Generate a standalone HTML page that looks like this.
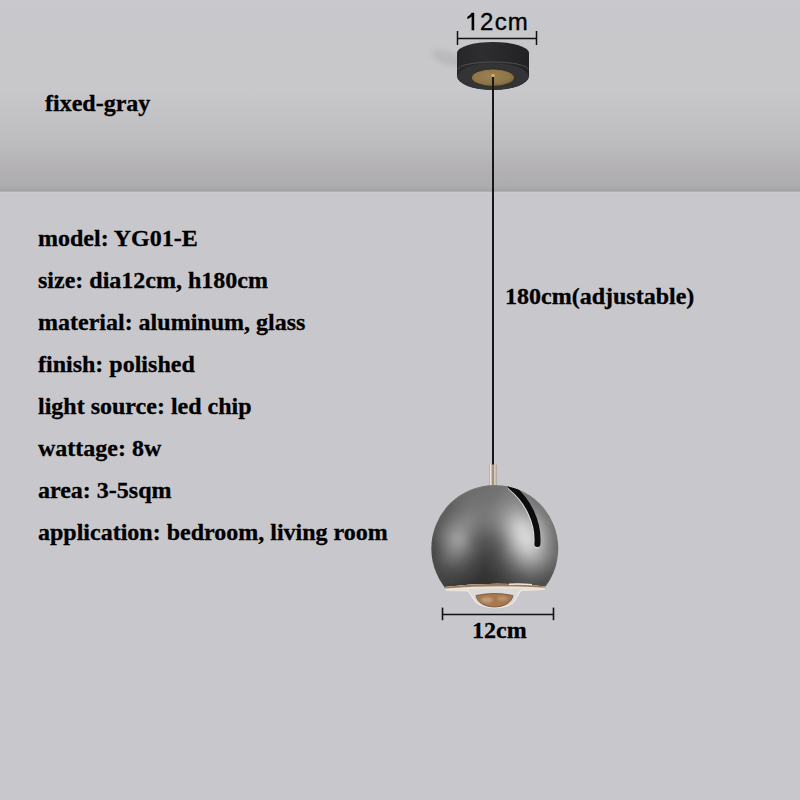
<!DOCTYPE html>
<html><head><meta charset="utf-8">
<style>
html,body{margin:0;padding:0;}
body{width:800px;height:800px;position:relative;overflow:hidden;background:#c8c7cb;}
#ceil{position:absolute;left:0;top:0;width:800px;height:192px;background:linear-gradient(to bottom,#c9c8cc 0px,#c8c7cb 20px,#c8c7ca 90px,#c2c1c4 120px,#bcbbbe 145px,#b4b2b5 165px,#afaeb1 178px,#adacae 186px,#a9a8ab 188.5px,#a3a2a5 190.5px,#a6a5a8 191px,#bab9bc 192px);}
#ceil2{position:absolute;left:0;top:192px;width:800px;height:1px;background:#cbcacd;}
.t{position:absolute;font-family:"Liberation Serif",serif;font-weight:bold;color:#000;white-space:nowrap;-webkit-text-stroke:0.3px #000;}
.spec{font-size:24px;left:38px;}
.sans{position:absolute;font-family:"Liberation Sans",sans-serif;color:#000;white-space:nowrap;-webkit-text-stroke:0.35px #000;}
svg{position:absolute;left:0;top:0;}
</style></head>
<body>
<div id="ceil"></div><div id="ceil2"></div>
<div class="t" style="left:45px;top:90px;font-size:24px;">fixed-gray</div>
<div class="t spec" style="top:225px;">model: YG01-E</div>
<div class="t spec" style="top:267px;">size: dia12cm, h180cm</div>
<div class="t spec" style="top:309px;">material: aluminum, glass</div>
<div class="t spec" style="top:351px;">finish: polished</div>
<div class="t spec" style="top:393px;">light source: led chip</div>
<div class="t spec" style="top:435px;">wattage: 8w</div>
<div class="t spec" style="top:477px;">area: 3-5sqm</div>
<div class="t spec" style="top:519px;">application: bedroom, living room</div>
<div class="t" style="left:505px;top:283px;font-size:24px;">180cm(adjustable)</div>
<div class="t" style="left:472px;top:617px;font-size:24px;">12cm</div>
<div class="sans" style="left:480.1px;top:8px;font-size:24px;letter-spacing:1.2px;">2cm</div>

<svg width="800" height="800" viewBox="0 0 800 800">
 <defs>
  <radialGradient id="sph" gradientUnits="userSpaceOnUse" cx="478" cy="530" r="78">
   <stop offset="0" stop-color="#727274"/>
   <stop offset="0.5" stop-color="#69696b"/>
   <stop offset="0.78" stop-color="#5c5c5e"/>
   <stop offset="1" stop-color="#464648"/>
  </radialGradient>
  <linearGradient id="sphb" gradientUnits="userSpaceOnUse" x1="0" y1="540" x2="0" y2="584">
   <stop offset="0" stop-color="#000" stop-opacity="0"/>
   <stop offset="1" stop-color="#000" stop-opacity="0.22"/>
  </linearGradient>
  <filter id="blur6" x="-50%" y="-50%" width="200%" height="200%"><feGaussianBlur stdDeviation="6"/></filter>
  <filter id="blur2" x="-20%" y="-20%" width="140%" height="140%"><feGaussianBlur stdDeviation="2"/></filter>
  <filter id="blur3" x="-20%" y="-20%" width="140%" height="140%"><feGaussianBlur stdDeviation="2.5"/></filter>
  <filter id="blur1" x="-50%" y="-50%" width="200%" height="200%"><feGaussianBlur stdDeviation="1.2"/></filter>
  <clipPath id="sclip"><circle cx="494.8" cy="548.5" r="63.5"/></clipPath>
  <radialGradient id="brass" cx="0.45" cy="0.4" r="0.6">
   <stop offset="0" stop-color="#9c8152"/>
   <stop offset="0.7" stop-color="#8f7548"/>
   <stop offset="1" stop-color="#7a6440"/>
  </radialGradient>
  <linearGradient id="collar" x1="0" x2="1">
   <stop offset="0" stop-color="#a89484"/>
   <stop offset="0.2" stop-color="#f2e8dc"/>
   <stop offset="0.42" stop-color="#b8a290"/>
   <stop offset="0.55" stop-color="#8e7a6a"/>
   <stop offset="0.78" stop-color="#eadfd0"/>
   <stop offset="1" stop-color="#a08e7e"/>
  </linearGradient>
  <linearGradient id="can" x1="0" x2="1">
   <stop offset="0" stop-color="#262628"/>
   <stop offset="0.35" stop-color="#2e2e30"/>
   <stop offset="1" stop-color="#222224"/>
  </linearGradient>
  <clipPath id="cut"><path d="M400,470 L600,470 L600,586.5 L545.5,586.5 Q494.8,581 444.5,587 L400,587 Z"/></clipPath>
  <radialGradient id="hl" cx="0.5" cy="0.5" r="0.5"><stop offset="0" stop-color="#fff" stop-opacity="0.10"/><stop offset="1" stop-color="#fff" stop-opacity="0"/></radialGradient>
 </defs>
 <!-- top dimension -->
 <path d="M471.6,12.8 L474.2,12.8 L474.2,30.2 L471.6,30.2 L471.6,16.6 Q469.8,18.3 467.4,19.3 L467.4,16.8 Q470.3,15.3 471.6,12.8 Z" fill="#000"/>
 <line x1="457.5" y1="38.5" x2="536.5" y2="38.5" stroke="#111" stroke-width="1.6"/>
 <line x1="457.5" y1="31" x2="457.5" y2="45" stroke="#111" stroke-width="1.5"/>
 <line x1="536.5" y1="31" x2="536.5" y2="45" stroke="#111" stroke-width="1.5"/>
 <!-- canopy -->
 <ellipse cx="447" cy="58" rx="16" ry="7" fill="#a2a1a5" opacity="0.35" filter="url(#blur3)" transform="rotate(20 447 58)"/>
 <path d="M457,53 A36,11 0 0 1 529,53 L529,76 A36,14 0 0 1 457,76 Z" fill="url(#can)"/>
 <ellipse cx="493" cy="76.5" rx="35.5" ry="13.3" fill="#343437"/>
 <path d="M457.8,69.5 A35.2,7.5 0 0 1 528.2,69.5" fill="none" stroke="#4e4e50" stroke-width="1"/>
 <ellipse cx="493" cy="77.7" rx="21.5" ry="8.7" fill="url(#brass)" stroke="#2e2618" stroke-width="0.8"/>
 <!-- cord -->
 <line x1="493" y1="76" x2="493" y2="466" stroke="#161616" stroke-width="2"/>
 <circle cx="493" cy="75.5" r="1.6" fill="#d8b878"/>
 <!-- collar -->
 <rect x="489" y="464.5" width="7.5" height="21" fill="url(#collar)"/>
 <!-- sphere -->
 <g clip-path="url(#cut)">
 <g clip-path="url(#sclip)">
  <g filter="url(#blur3)">
<path fill="#2d2d2d" d="M473 590h3v3h-3zM476 590h3v3h-3zM479 590h3v3h-3zM482 590h3v3h-3zM485 590h3v3h-3z"/>
<path fill="#303030" d="M479 584h3v3h-3zM482 584h3v3h-3zM485 584h3v3h-3zM470 587h3v3h-3zM473 587h3v3h-3zM476 587h3v3h-3zM479 587h3v3h-3zM482 587h3v3h-3zM485 587h3v3h-3zM488 587h3v3h-3zM464 590h3v3h-3zM467 590h3v3h-3zM470 590h3v3h-3zM488 590h3v3h-3zM491 590h3v3h-3zM494 590h3v3h-3z"/>
<path fill="#333333" d="M479 578h3v3h-3zM482 578h3v3h-3zM485 578h3v3h-3zM473 581h3v3h-3zM476 581h3v3h-3zM479 581h3v3h-3zM482 581h3v3h-3zM485 581h3v3h-3zM488 581h3v3h-3zM470 584h3v3h-3zM473 584h3v3h-3zM476 584h3v3h-3zM488 584h3v3h-3zM491 584h3v3h-3zM464 587h3v3h-3zM467 587h3v3h-3zM491 587h3v3h-3zM494 587h3v3h-3zM443 590h3v3h-3zM452 590h3v3h-3zM455 590h3v3h-3zM458 590h3v3h-3zM461 590h3v3h-3zM497 590h3v3h-3zM500 590h3v3h-3z"/>
<path fill="#363636" d="M482 572h3v3h-3zM485 572h3v3h-3zM476 575h3v3h-3zM479 575h3v3h-3zM482 575h3v3h-3zM485 575h3v3h-3zM488 575h3v3h-3zM473 578h3v3h-3zM476 578h3v3h-3zM488 578h3v3h-3zM491 578h3v3h-3zM467 581h3v3h-3zM470 581h3v3h-3zM491 581h3v3h-3zM494 581h3v3h-3zM461 584h3v3h-3zM464 584h3v3h-3zM467 584h3v3h-3zM494 584h3v3h-3zM497 584h3v3h-3zM440 587h3v3h-3zM452 587h3v3h-3zM455 587h3v3h-3zM458 587h3v3h-3zM461 587h3v3h-3zM497 587h3v3h-3zM500 587h3v3h-3zM446 590h3v3h-3zM449 590h3v3h-3zM503 590h3v3h-3z"/>
<path fill="#393939" d="M482 566h3v3h-3zM485 566h3v3h-3zM479 569h3v3h-3zM482 569h3v3h-3zM485 569h3v3h-3zM488 569h3v3h-3zM476 572h3v3h-3zM479 572h3v3h-3zM488 572h3v3h-3zM491 572h3v3h-3zM473 575h3v3h-3zM491 575h3v3h-3zM494 575h3v3h-3zM467 578h3v3h-3zM470 578h3v3h-3zM494 578h3v3h-3zM461 581h3v3h-3zM464 581h3v3h-3zM497 581h3v3h-3zM440 584h3v3h-3zM455 584h3v3h-3zM458 584h3v3h-3zM500 584h3v3h-3zM443 587h3v3h-3zM446 587h3v3h-3zM449 587h3v3h-3zM503 587h3v3h-3zM506 590h3v3h-3zM509 590h3v3h-3z"/>
<path fill="#3c3c3c" d="M482 563h3v3h-3zM485 563h3v3h-3zM479 566h3v3h-3zM488 566h3v3h-3zM476 569h3v3h-3zM491 569h3v3h-3zM473 572h3v3h-3zM494 572h3v3h-3zM467 575h3v3h-3zM470 575h3v3h-3zM497 575h3v3h-3zM434 578h3v3h-3zM464 578h3v3h-3zM497 578h3v3h-3zM437 581h3v3h-3zM440 581h3v3h-3zM455 581h3v3h-3zM458 581h3v3h-3zM500 581h3v3h-3zM443 584h3v3h-3zM446 584h3v3h-3zM449 584h3v3h-3zM452 584h3v3h-3zM503 584h3v3h-3zM506 587h3v3h-3zM512 590h3v3h-3z"/>
<path fill="#3f3f3f" d="M428 548h3v3h-3zM428 551h3v3h-3zM428 554h3v3h-3zM428 557h3v3h-3zM428 560h3v3h-3zM482 560h3v3h-3zM485 560h3v3h-3zM488 560h3v3h-3zM479 563h3v3h-3zM488 563h3v3h-3zM491 563h3v3h-3zM476 566h3v3h-3zM491 566h3v3h-3zM431 569h3v3h-3zM473 569h3v3h-3zM494 569h3v3h-3zM467 572h3v3h-3zM470 572h3v3h-3zM497 572h3v3h-3zM434 575h3v3h-3zM464 575h3v3h-3zM437 578h3v3h-3zM455 578h3v3h-3zM458 578h3v3h-3zM461 578h3v3h-3zM500 578h3v3h-3zM443 581h3v3h-3zM446 581h3v3h-3zM449 581h3v3h-3zM452 581h3v3h-3zM503 581h3v3h-3zM506 584h3v3h-3zM509 587h3v3h-3zM512 587h3v3h-3zM515 590h3v3h-3zM518 590h3v3h-3z"/>
<path fill="#424242" d="M428 542h3v3h-3zM428 545h3v3h-3zM482 557h3v3h-3zM485 557h3v3h-3zM488 557h3v3h-3zM479 560h3v3h-3zM491 560h3v3h-3zM431 563h3v3h-3zM476 563h3v3h-3zM431 566h3v3h-3zM473 566h3v3h-3zM494 566h3v3h-3zM470 569h3v3h-3zM497 569h3v3h-3zM434 572h3v3h-3zM464 572h3v3h-3zM437 575h3v3h-3zM458 575h3v3h-3zM461 575h3v3h-3zM500 575h3v3h-3zM440 578h3v3h-3zM443 578h3v3h-3zM446 578h3v3h-3zM449 578h3v3h-3zM452 578h3v3h-3zM503 578h3v3h-3zM506 581h3v3h-3zM509 584h3v3h-3zM515 587h3v3h-3zM521 590h3v3h-3zM524 590h3v3h-3zM527 590h3v3h-3zM530 590h3v3h-3zM533 590h3v3h-3zM536 590h3v3h-3zM539 590h3v3h-3zM542 590h3v3h-3z"/>
<path fill="#454545" d="M428 533h3v3h-3zM428 536h3v3h-3zM428 539h3v3h-3zM431 551h3v3h-3zM431 554h3v3h-3zM482 554h3v3h-3zM485 554h3v3h-3zM488 554h3v3h-3zM431 557h3v3h-3zM479 557h3v3h-3zM491 557h3v3h-3zM431 560h3v3h-3zM476 560h3v3h-3zM473 563h3v3h-3zM494 563h3v3h-3zM434 566h3v3h-3zM470 566h3v3h-3zM497 566h3v3h-3zM434 569h3v3h-3zM467 569h3v3h-3zM437 572h3v3h-3zM461 572h3v3h-3zM500 572h3v3h-3zM440 575h3v3h-3zM443 575h3v3h-3zM446 575h3v3h-3zM449 575h3v3h-3zM452 575h3v3h-3zM455 575h3v3h-3zM503 575h3v3h-3zM506 578h3v3h-3zM509 581h3v3h-3zM512 584h3v3h-3zM548 584h3v3h-3zM518 587h3v3h-3zM521 587h3v3h-3zM542 587h3v3h-3zM545 587h3v3h-3z"/>
<path fill="#484848" d="M431 545h3v3h-3zM431 548h3v3h-3zM485 551h3v3h-3zM479 554h3v3h-3zM491 554h3v3h-3zM476 557h3v3h-3zM473 560h3v3h-3zM494 560h3v3h-3zM434 563h3v3h-3zM470 563h3v3h-3zM497 563h3v3h-3zM467 566h3v3h-3zM437 569h3v3h-3zM464 569h3v3h-3zM500 569h3v3h-3zM440 572h3v3h-3zM443 572h3v3h-3zM452 572h3v3h-3zM455 572h3v3h-3zM458 572h3v3h-3zM503 572h3v3h-3zM506 575h3v3h-3zM509 578h3v3h-3zM512 581h3v3h-3zM551 581h3v3h-3zM515 584h3v3h-3zM518 584h3v3h-3zM545 584h3v3h-3zM524 587h3v3h-3zM527 587h3v3h-3zM530 587h3v3h-3zM533 587h3v3h-3zM536 587h3v3h-3zM539 587h3v3h-3z"/>
<path fill="#4b4b4b" d="M431 539h3v3h-3zM431 542h3v3h-3zM482 551h3v3h-3zM488 551h3v3h-3zM491 551h3v3h-3zM434 557h3v3h-3zM494 557h3v3h-3zM434 560h3v3h-3zM437 566h3v3h-3zM500 566h3v3h-3zM440 569h3v3h-3zM461 569h3v3h-3zM446 572h3v3h-3zM449 572h3v3h-3zM554 575h3v3h-3zM512 578h3v3h-3zM551 578h3v3h-3zM515 581h3v3h-3zM548 581h3v3h-3zM521 584h3v3h-3zM524 584h3v3h-3zM536 584h3v3h-3zM539 584h3v3h-3zM542 584h3v3h-3z"/>
<path fill="#4e4e4e" d="M431 524h3v3h-3zM431 527h3v3h-3zM431 530h3v3h-3zM431 533h3v3h-3zM431 536h3v3h-3zM434 548h3v3h-3zM482 548h3v3h-3zM485 548h3v3h-3zM488 548h3v3h-3zM434 551h3v3h-3zM479 551h3v3h-3zM434 554h3v3h-3zM476 554h3v3h-3zM494 554h3v3h-3zM473 557h3v3h-3zM470 560h3v3h-3zM497 560h3v3h-3zM437 563h3v3h-3zM467 563h3v3h-3zM500 563h3v3h-3zM440 566h3v3h-3zM464 566h3v3h-3zM443 569h3v3h-3zM446 569h3v3h-3zM449 569h3v3h-3zM452 569h3v3h-3zM455 569h3v3h-3zM458 569h3v3h-3zM503 569h3v3h-3zM506 572h3v3h-3zM509 575h3v3h-3zM548 578h3v3h-3zM518 581h3v3h-3zM542 581h3v3h-3zM545 581h3v3h-3zM527 584h3v3h-3zM530 584h3v3h-3zM533 584h3v3h-3z"/>
<path fill="#515151" d="M434 518h3v3h-3zM434 521h3v3h-3zM434 542h3v3h-3zM434 545h3v3h-3zM482 545h3v3h-3zM485 545h3v3h-3zM488 545h3v3h-3zM479 548h3v3h-3zM491 548h3v3h-3zM476 551h3v3h-3zM494 551h3v3h-3zM497 557h3v3h-3zM437 560h3v3h-3zM443 566h3v3h-3zM461 566h3v3h-3zM503 566h3v3h-3zM554 572h3v3h-3zM512 575h3v3h-3zM551 575h3v3h-3zM515 578h3v3h-3zM545 578h3v3h-3zM521 581h3v3h-3zM524 581h3v3h-3zM536 581h3v3h-3zM539 581h3v3h-3z"/>
<path fill="#545454" d="M437 512h3v3h-3zM437 515h3v3h-3zM434 524h3v3h-3zM434 539h3v3h-3zM482 542h3v3h-3zM485 542h3v3h-3zM488 542h3v3h-3zM479 545h3v3h-3zM491 545h3v3h-3zM476 548h3v3h-3zM494 548h3v3h-3zM437 554h3v3h-3zM473 554h3v3h-3zM497 554h3v3h-3zM437 557h3v3h-3zM470 557h3v3h-3zM467 560h3v3h-3zM500 560h3v3h-3zM440 563h3v3h-3zM464 563h3v3h-3zM446 566h3v3h-3zM449 566h3v3h-3zM455 566h3v3h-3zM458 566h3v3h-3zM557 566h3v3h-3zM506 569h3v3h-3zM554 569h3v3h-3zM509 572h3v3h-3zM551 572h3v3h-3zM515 575h3v3h-3zM548 575h3v3h-3zM518 578h3v3h-3zM521 578h3v3h-3zM542 578h3v3h-3zM527 581h3v3h-3zM530 581h3v3h-3zM533 581h3v3h-3z"/>
<path fill="#575757" d="M440 509h3v3h-3zM440 512h3v3h-3zM437 518h3v3h-3zM434 527h3v3h-3zM434 530h3v3h-3zM434 533h3v3h-3zM434 536h3v3h-3zM482 539h3v3h-3zM485 539h3v3h-3zM479 542h3v3h-3zM491 542h3v3h-3zM476 545h3v3h-3zM494 545h3v3h-3zM437 548h3v3h-3zM437 551h3v3h-3zM473 551h3v3h-3zM497 551h3v3h-3zM500 557h3v3h-3zM440 560h3v3h-3zM443 563h3v3h-3zM461 563h3v3h-3zM503 563h3v3h-3zM452 566h3v3h-3zM506 566h3v3h-3zM512 572h3v3h-3zM518 575h3v3h-3zM545 575h3v3h-3zM524 578h3v3h-3zM536 578h3v3h-3zM539 578h3v3h-3z"/>
<path fill="#5a5a5a" d="M443 503h3v3h-3zM443 506h3v3h-3zM443 509h3v3h-3zM440 515h3v3h-3zM437 521h3v3h-3zM479 539h3v3h-3zM488 539h3v3h-3zM476 542h3v3h-3zM437 545h3v3h-3zM470 554h3v3h-3zM440 557h3v3h-3zM467 557h3v3h-3zM464 560h3v3h-3zM446 563h3v3h-3zM458 563h3v3h-3zM557 563h3v3h-3zM554 566h3v3h-3zM509 569h3v3h-3zM551 569h3v3h-3zM548 572h3v3h-3zM542 575h3v3h-3zM527 578h3v3h-3zM530 578h3v3h-3zM533 578h3v3h-3z"/>
<path fill="#5d5d5d" d="M446 500h3v3h-3zM446 503h3v3h-3zM446 506h3v3h-3zM443 512h3v3h-3zM440 518h3v3h-3zM437 524h3v3h-3zM437 527h3v3h-3zM482 536h3v3h-3zM485 536h3v3h-3zM488 536h3v3h-3zM476 539h3v3h-3zM491 539h3v3h-3zM437 542h3v3h-3zM494 542h3v3h-3zM560 542h3v3h-3zM473 548h3v3h-3zM497 548h3v3h-3zM560 548h3v3h-3zM560 551h3v3h-3zM440 554h3v3h-3zM500 554h3v3h-3zM443 560h3v3h-3zM503 560h3v3h-3zM557 560h3v3h-3zM449 563h3v3h-3zM452 563h3v3h-3zM455 563h3v3h-3zM506 563h3v3h-3zM515 572h3v3h-3zM545 572h3v3h-3zM521 575h3v3h-3zM539 575h3v3h-3z"/>
<path fill="#606060" d="M449 497h3v3h-3zM449 500h3v3h-3zM449 503h3v3h-3zM446 509h3v3h-3zM446 512h3v3h-3zM443 515h3v3h-3zM440 521h3v3h-3zM437 530h3v3h-3zM437 533h3v3h-3zM437 536h3v3h-3zM479 536h3v3h-3zM491 536h3v3h-3zM437 539h3v3h-3zM494 539h3v3h-3zM473 545h3v3h-3zM497 545h3v3h-3zM560 545h3v3h-3zM440 551h3v3h-3zM470 551h3v3h-3zM500 551h3v3h-3zM464 557h3v3h-3zM503 557h3v3h-3zM557 557h3v3h-3zM461 560h3v3h-3zM554 563h3v3h-3zM509 566h3v3h-3zM551 566h3v3h-3zM512 569h3v3h-3zM548 569h3v3h-3zM518 572h3v3h-3zM542 572h3v3h-3zM524 575h3v3h-3zM527 575h3v3h-3zM533 575h3v3h-3zM536 575h3v3h-3z"/>
<path fill="#636363" d="M452 497h3v3h-3zM452 500h3v3h-3zM452 503h3v3h-3zM449 506h3v3h-3zM449 509h3v3h-3zM443 518h3v3h-3zM440 524h3v3h-3zM557 527h3v3h-3zM479 533h3v3h-3zM482 533h3v3h-3zM485 533h3v3h-3zM488 533h3v3h-3zM476 536h3v3h-3zM473 542h3v3h-3zM497 542h3v3h-3zM440 548h3v3h-3zM467 554h3v3h-3zM557 554h3v3h-3zM443 557h3v3h-3zM446 560h3v3h-3zM458 560h3v3h-3zM530 575h3v3h-3z"/>
<path fill="#666666" d="M458 491h3v3h-3zM455 494h3v3h-3zM458 494h3v3h-3zM455 497h3v3h-3zM455 500h3v3h-3zM452 506h3v3h-3zM452 509h3v3h-3zM449 512h3v3h-3zM446 515h3v3h-3zM443 521h3v3h-3zM440 527h3v3h-3zM557 530h3v3h-3zM557 533h3v3h-3zM494 536h3v3h-3zM557 536h3v3h-3zM473 539h3v3h-3zM557 539h3v3h-3zM557 542h3v3h-3zM440 545h3v3h-3zM557 545h3v3h-3zM470 548h3v3h-3zM500 548h3v3h-3zM557 548h3v3h-3zM557 551h3v3h-3zM443 554h3v3h-3zM503 554h3v3h-3zM461 557h3v3h-3zM449 560h3v3h-3zM452 560h3v3h-3zM455 560h3v3h-3zM506 560h3v3h-3zM554 560h3v3h-3zM509 563h3v3h-3zM551 563h3v3h-3zM512 566h3v3h-3zM548 566h3v3h-3zM515 569h3v3h-3zM545 569h3v3h-3zM521 572h3v3h-3zM539 572h3v3h-3z"/>
<path fill="#696969" d="M470 485h3v3h-3zM464 488h3v3h-3zM461 491h3v3h-3zM464 491h3v3h-3zM461 494h3v3h-3zM458 497h3v3h-3zM458 500h3v3h-3zM455 503h3v3h-3zM455 506h3v3h-3zM548 509h3v3h-3zM449 515h3v3h-3zM446 518h3v3h-3zM554 521h3v3h-3zM440 530h3v3h-3zM479 530h3v3h-3zM482 530h3v3h-3zM485 530h3v3h-3zM488 530h3v3h-3zM476 533h3v3h-3zM491 533h3v3h-3zM473 536h3v3h-3zM440 539h3v3h-3zM497 539h3v3h-3zM440 542h3v3h-3zM470 545h3v3h-3zM500 545h3v3h-3zM467 551h3v3h-3zM464 554h3v3h-3zM446 557h3v3h-3zM554 557h3v3h-3zM524 572h3v3h-3zM536 572h3v3h-3z"/>
<path fill="#6c6c6c" d="M479 482h3v3h-3zM482 482h3v3h-3zM485 482h3v3h-3zM488 482h3v3h-3zM473 485h3v3h-3zM476 485h3v3h-3zM479 485h3v3h-3zM482 485h3v3h-3zM467 488h3v3h-3zM470 488h3v3h-3zM473 488h3v3h-3zM476 488h3v3h-3zM467 491h3v3h-3zM470 491h3v3h-3zM464 494h3v3h-3zM467 494h3v3h-3zM533 494h3v3h-3zM461 497h3v3h-3zM464 497h3v3h-3zM536 497h3v3h-3zM461 500h3v3h-3zM539 500h3v3h-3zM458 503h3v3h-3zM542 503h3v3h-3zM458 506h3v3h-3zM545 506h3v3h-3zM455 509h3v3h-3zM452 512h3v3h-3zM551 515h3v3h-3zM443 524h3v3h-3zM554 524h3v3h-3zM482 527h3v3h-3zM485 527h3v3h-3zM554 527h3v3h-3zM440 533h3v3h-3zM494 533h3v3h-3zM440 536h3v3h-3zM470 542h3v3h-3zM500 542h3v3h-3zM443 551h3v3h-3zM503 551h3v3h-3zM554 554h3v3h-3zM449 557h3v3h-3zM458 557h3v3h-3zM506 557h3v3h-3zM551 560h3v3h-3zM518 569h3v3h-3zM542 569h3v3h-3zM527 572h3v3h-3zM530 572h3v3h-3zM533 572h3v3h-3z"/>
<path fill="#6f6f6f" d="M491 482h3v3h-3zM494 482h3v3h-3zM497 482h3v3h-3zM485 485h3v3h-3zM488 485h3v3h-3zM491 485h3v3h-3zM494 485h3v3h-3zM479 488h3v3h-3zM482 488h3v3h-3zM485 488h3v3h-3zM488 488h3v3h-3zM491 488h3v3h-3zM473 491h3v3h-3zM476 491h3v3h-3zM479 491h3v3h-3zM482 491h3v3h-3zM485 491h3v3h-3zM530 491h3v3h-3zM470 494h3v3h-3zM473 494h3v3h-3zM476 494h3v3h-3zM479 494h3v3h-3zM467 497h3v3h-3zM470 497h3v3h-3zM533 497h3v3h-3zM464 500h3v3h-3zM536 500h3v3h-3zM461 503h3v3h-3zM461 506h3v3h-3zM458 509h3v3h-3zM455 512h3v3h-3zM548 512h3v3h-3zM452 515h3v3h-3zM449 518h3v3h-3zM551 518h3v3h-3zM446 521h3v3h-3zM443 527h3v3h-3zM479 527h3v3h-3zM488 527h3v3h-3zM476 530h3v3h-3zM491 530h3v3h-3zM554 530h3v3h-3zM473 533h3v3h-3zM554 533h3v3h-3zM497 536h3v3h-3zM554 536h3v3h-3zM470 539h3v3h-3zM554 539h3v3h-3zM554 542h3v3h-3zM554 545h3v3h-3zM443 548h3v3h-3zM467 548h3v3h-3zM554 548h3v3h-3zM554 551h3v3h-3zM446 554h3v3h-3zM461 554h3v3h-3zM452 557h3v3h-3zM455 557h3v3h-3zM509 560h3v3h-3zM512 563h3v3h-3zM548 563h3v3h-3zM515 566h3v3h-3zM545 566h3v3h-3zM521 569h3v3h-3zM539 569h3v3h-3z"/>
<path fill="#727272" d="M500 482h3v3h-3zM503 482h3v3h-3zM506 482h3v3h-3zM509 482h3v3h-3zM497 485h3v3h-3zM500 485h3v3h-3zM494 488h3v3h-3zM497 488h3v3h-3zM524 488h3v3h-3zM488 491h3v3h-3zM491 491h3v3h-3zM494 491h3v3h-3zM527 491h3v3h-3zM482 494h3v3h-3zM485 494h3v3h-3zM488 494h3v3h-3zM491 494h3v3h-3zM530 494h3v3h-3zM473 497h3v3h-3zM476 497h3v3h-3zM479 497h3v3h-3zM482 497h3v3h-3zM485 497h3v3h-3zM488 497h3v3h-3zM467 500h3v3h-3zM470 500h3v3h-3zM473 500h3v3h-3zM476 500h3v3h-3zM479 500h3v3h-3zM482 500h3v3h-3zM464 503h3v3h-3zM467 503h3v3h-3zM539 503h3v3h-3zM464 506h3v3h-3zM542 506h3v3h-3zM461 509h3v3h-3zM545 509h3v3h-3zM458 512h3v3h-3zM548 515h3v3h-3zM551 521h3v3h-3zM446 524h3v3h-3zM479 524h3v3h-3zM482 524h3v3h-3zM485 524h3v3h-3zM476 527h3v3h-3zM491 527h3v3h-3zM443 530h3v3h-3zM500 539h3v3h-3zM443 545h3v3h-3zM503 548h3v3h-3zM464 551h3v3h-3zM506 554h3v3h-3zM551 557h3v3h-3zM536 569h3v3h-3z"/>
<path fill="#757575" d="M503 485h3v3h-3zM506 485h3v3h-3zM509 485h3v3h-3zM512 485h3v3h-3zM515 485h3v3h-3zM518 485h3v3h-3zM500 488h3v3h-3zM503 488h3v3h-3zM521 488h3v3h-3zM497 491h3v3h-3zM524 491h3v3h-3zM494 494h3v3h-3zM497 494h3v3h-3zM527 494h3v3h-3zM491 497h3v3h-3zM494 497h3v3h-3zM530 497h3v3h-3zM485 500h3v3h-3zM488 500h3v3h-3zM491 500h3v3h-3zM533 500h3v3h-3zM470 503h3v3h-3zM473 503h3v3h-3zM476 503h3v3h-3zM479 503h3v3h-3zM482 503h3v3h-3zM485 503h3v3h-3zM488 503h3v3h-3zM536 503h3v3h-3zM467 506h3v3h-3zM470 506h3v3h-3zM473 506h3v3h-3zM476 506h3v3h-3zM479 506h3v3h-3zM482 506h3v3h-3zM464 509h3v3h-3zM545 512h3v3h-3zM455 515h3v3h-3zM452 518h3v3h-3zM449 521h3v3h-3zM482 521h3v3h-3zM485 521h3v3h-3zM476 524h3v3h-3zM488 524h3v3h-3zM551 524h3v3h-3zM473 530h3v3h-3zM494 530h3v3h-3zM443 533h3v3h-3zM497 533h3v3h-3zM470 536h3v3h-3zM443 539h3v3h-3zM443 542h3v3h-3zM467 545h3v3h-3zM503 545h3v3h-3zM446 551h3v3h-3zM449 554h3v3h-3zM458 554h3v3h-3zM551 554h3v3h-3zM509 557h3v3h-3zM548 560h3v3h-3zM545 563h3v3h-3zM518 566h3v3h-3zM542 566h3v3h-3zM524 569h3v3h-3zM533 569h3v3h-3z"/>
<path fill="#787878" d="M506 488h3v3h-3zM509 488h3v3h-3zM512 488h3v3h-3zM515 488h3v3h-3zM518 488h3v3h-3zM500 491h3v3h-3zM503 491h3v3h-3zM521 491h3v3h-3zM500 494h3v3h-3zM524 494h3v3h-3zM497 497h3v3h-3zM494 500h3v3h-3zM491 503h3v3h-3zM485 506h3v3h-3zM488 506h3v3h-3zM539 506h3v3h-3zM467 509h3v3h-3zM470 509h3v3h-3zM473 509h3v3h-3zM476 509h3v3h-3zM479 509h3v3h-3zM482 509h3v3h-3zM485 509h3v3h-3zM542 509h3v3h-3zM461 512h3v3h-3zM464 512h3v3h-3zM479 512h3v3h-3zM482 512h3v3h-3zM485 512h3v3h-3zM458 515h3v3h-3zM479 515h3v3h-3zM482 515h3v3h-3zM485 515h3v3h-3zM455 518h3v3h-3zM479 518h3v3h-3zM482 518h3v3h-3zM485 518h3v3h-3zM548 518h3v3h-3zM476 521h3v3h-3zM479 521h3v3h-3zM488 521h3v3h-3zM491 524h3v3h-3zM446 527h3v3h-3zM473 527h3v3h-3zM494 527h3v3h-3zM551 527h3v3h-3zM551 530h3v3h-3zM470 533h3v3h-3zM443 536h3v3h-3zM551 539h3v3h-3zM467 542h3v3h-3zM446 548h3v3h-3zM464 548h3v3h-3zM461 551h3v3h-3zM506 551h3v3h-3zM551 551h3v3h-3zM452 554h3v3h-3zM455 554h3v3h-3zM512 560h3v3h-3zM515 563h3v3h-3zM527 569h3v3h-3zM530 569h3v3h-3z"/>
<path fill="#7b7b7b" d="M506 491h3v3h-3zM509 491h3v3h-3zM512 491h3v3h-3zM515 491h3v3h-3zM518 491h3v3h-3zM503 494h3v3h-3zM500 497h3v3h-3zM527 497h3v3h-3zM497 500h3v3h-3zM530 500h3v3h-3zM494 503h3v3h-3zM533 503h3v3h-3zM491 506h3v3h-3zM536 506h3v3h-3zM488 509h3v3h-3zM491 509h3v3h-3zM467 512h3v3h-3zM470 512h3v3h-3zM473 512h3v3h-3zM476 512h3v3h-3zM488 512h3v3h-3zM542 512h3v3h-3zM461 515h3v3h-3zM473 515h3v3h-3zM476 515h3v3h-3zM488 515h3v3h-3zM545 515h3v3h-3zM476 518h3v3h-3zM488 518h3v3h-3zM452 521h3v3h-3zM473 521h3v3h-3zM491 521h3v3h-3zM548 521h3v3h-3zM449 524h3v3h-3zM473 524h3v3h-3zM470 530h3v3h-3zM497 530h3v3h-3zM551 533h3v3h-3zM500 536h3v3h-3zM551 536h3v3h-3zM503 542h3v3h-3zM551 542h3v3h-3zM551 545h3v3h-3zM551 548h3v3h-3zM449 551h3v3h-3zM548 557h3v3h-3zM521 566h3v3h-3zM539 566h3v3h-3z"/>
<path fill="#7e7e7e" d="M506 494h3v3h-3zM509 494h3v3h-3zM518 494h3v3h-3zM521 494h3v3h-3zM503 497h3v3h-3zM524 497h3v3h-3zM500 500h3v3h-3zM527 500h3v3h-3zM497 503h3v3h-3zM494 506h3v3h-3zM539 509h3v3h-3zM491 512h3v3h-3zM464 515h3v3h-3zM467 515h3v3h-3zM470 515h3v3h-3zM491 515h3v3h-3zM458 518h3v3h-3zM470 518h3v3h-3zM473 518h3v3h-3zM491 518h3v3h-3zM455 521h3v3h-3zM470 524h3v3h-3zM494 524h3v3h-3zM548 524h3v3h-3zM470 527h3v3h-3zM446 530h3v3h-3zM467 539h3v3h-3zM446 545h3v3h-3zM506 548h3v3h-3zM452 551h3v3h-3zM458 551h3v3h-3zM509 554h3v3h-3zM545 560h3v3h-3zM542 563h3v3h-3zM536 566h3v3h-3z"/>
<path fill="#818181" d="M512 494h3v3h-3zM515 494h3v3h-3zM506 497h3v3h-3zM521 497h3v3h-3zM503 500h3v3h-3zM500 503h3v3h-3zM530 503h3v3h-3zM497 506h3v3h-3zM533 506h3v3h-3zM494 509h3v3h-3zM494 512h3v3h-3zM494 515h3v3h-3zM542 515h3v3h-3zM461 518h3v3h-3zM464 518h3v3h-3zM467 518h3v3h-3zM494 518h3v3h-3zM545 518h3v3h-3zM470 521h3v3h-3zM494 521h3v3h-3zM452 524h3v3h-3zM449 527h3v3h-3zM497 527h3v3h-3zM548 527h3v3h-3zM446 533h3v3h-3zM467 533h3v3h-3zM500 533h3v3h-3zM446 536h3v3h-3zM467 536h3v3h-3zM446 539h3v3h-3zM503 539h3v3h-3zM446 542h3v3h-3zM464 545h3v3h-3zM449 548h3v3h-3zM461 548h3v3h-3zM455 551h3v3h-3zM548 554h3v3h-3zM512 557h3v3h-3zM518 563h3v3h-3zM524 566h3v3h-3zM533 566h3v3h-3z"/>
<path fill="#848484" d="M509 497h3v3h-3zM512 497h3v3h-3zM515 497h3v3h-3zM518 497h3v3h-3zM506 500h3v3h-3zM524 500h3v3h-3zM527 503h3v3h-3zM497 509h3v3h-3zM536 509h3v3h-3zM539 512h3v3h-3zM458 521h3v3h-3zM461 521h3v3h-3zM464 521h3v3h-3zM467 521h3v3h-3zM545 521h3v3h-3zM467 524h3v3h-3zM497 524h3v3h-3zM467 527h3v3h-3zM467 530h3v3h-3zM548 530h3v3h-3zM506 545h3v3h-3zM548 548h3v3h-3zM548 551h3v3h-3zM545 557h3v3h-3zM515 560h3v3h-3zM539 563h3v3h-3zM527 566h3v3h-3zM530 566h3v3h-3z"/>
<path fill="#878787" d="M509 500h3v3h-3zM521 500h3v3h-3zM503 503h3v3h-3zM500 506h3v3h-3zM530 506h3v3h-3zM497 512h3v3h-3zM497 515h3v3h-3zM497 521h3v3h-3zM455 524h3v3h-3zM458 524h3v3h-3zM461 524h3v3h-3zM464 524h3v3h-3zM452 527h3v3h-3zM449 530h3v3h-3zM500 530h3v3h-3zM548 533h3v3h-3zM503 536h3v3h-3zM548 536h3v3h-3zM548 539h3v3h-3zM464 542h3v3h-3zM548 542h3v3h-3zM449 545h3v3h-3zM548 545h3v3h-3zM452 548h3v3h-3zM458 548h3v3h-3zM509 551h3v3h-3zM542 560h3v3h-3z"/>
<path fill="#8a8a8a" d="M512 500h3v3h-3zM515 500h3v3h-3zM518 500h3v3h-3zM506 503h3v3h-3zM524 503h3v3h-3zM503 506h3v3h-3zM500 509h3v3h-3zM533 509h3v3h-3zM536 512h3v3h-3zM539 515h3v3h-3zM497 518h3v3h-3zM542 518h3v3h-3zM545 524h3v3h-3zM464 527h3v3h-3zM464 530h3v3h-3zM449 533h3v3h-3zM464 539h3v3h-3zM449 542h3v3h-3zM506 542h3v3h-3zM461 545h3v3h-3zM455 548h3v3h-3zM512 554h3v3h-3zM545 554h3v3h-3zM521 563h3v3h-3zM536 563h3v3h-3z"/>
<path fill="#8d8d8d" d="M509 503h3v3h-3zM521 503h3v3h-3zM527 506h3v3h-3zM500 512h3v3h-3zM455 527h3v3h-3zM458 527h3v3h-3zM461 527h3v3h-3zM500 527h3v3h-3zM545 527h3v3h-3zM452 530h3v3h-3zM464 533h3v3h-3zM503 533h3v3h-3zM449 536h3v3h-3zM464 536h3v3h-3zM449 539h3v3h-3zM452 545h3v3h-3zM509 548h3v3h-3zM545 551h3v3h-3zM515 557h3v3h-3zM542 557h3v3h-3zM518 560h3v3h-3zM539 560h3v3h-3zM524 563h3v3h-3zM533 563h3v3h-3z"/>
<path fill="#909090" d="M512 503h3v3h-3zM515 503h3v3h-3zM518 503h3v3h-3zM506 506h3v3h-3zM524 506h3v3h-3zM503 509h3v3h-3zM530 509h3v3h-3zM500 515h3v3h-3zM500 518h3v3h-3zM500 521h3v3h-3zM542 521h3v3h-3zM500 524h3v3h-3zM461 530h3v3h-3zM545 530h3v3h-3zM461 542h3v3h-3zM455 545h3v3h-3zM458 545h3v3h-3zM545 548h3v3h-3zM527 563h3v3h-3zM530 563h3v3h-3z"/>
<path fill="#939393" d="M509 506h3v3h-3zM521 506h3v3h-3zM506 509h3v3h-3zM503 512h3v3h-3zM533 512h3v3h-3zM536 515h3v3h-3zM539 518h3v3h-3zM542 524h3v3h-3zM455 530h3v3h-3zM458 530h3v3h-3zM503 530h3v3h-3zM452 533h3v3h-3zM461 533h3v3h-3zM545 533h3v3h-3zM545 536h3v3h-3zM506 539h3v3h-3zM545 539h3v3h-3zM452 542h3v3h-3zM545 542h3v3h-3zM545 545h3v3h-3zM512 551h3v3h-3zM521 560h3v3h-3z"/>
<path fill="#969696" d="M512 506h3v3h-3zM515 506h3v3h-3zM518 506h3v3h-3zM527 509h3v3h-3zM503 515h3v3h-3zM452 536h3v3h-3zM461 536h3v3h-3zM452 539h3v3h-3zM461 539h3v3h-3zM458 542h3v3h-3zM509 545h3v3h-3zM515 554h3v3h-3zM542 554h3v3h-3zM518 557h3v3h-3zM539 557h3v3h-3zM536 560h3v3h-3z"/>
<path fill="#999999" d="M509 509h3v3h-3zM524 509h3v3h-3zM506 512h3v3h-3zM530 512h3v3h-3zM503 518h3v3h-3zM503 521h3v3h-3zM539 521h3v3h-3zM503 524h3v3h-3zM503 527h3v3h-3zM542 527h3v3h-3zM455 533h3v3h-3zM458 533h3v3h-3zM506 536h3v3h-3zM455 542h3v3h-3zM542 551h3v3h-3zM524 560h3v3h-3zM533 560h3v3h-3z"/>
<path fill="#9c9c9c" d="M512 509h3v3h-3zM521 509h3v3h-3zM533 515h3v3h-3zM536 518h3v3h-3zM542 530h3v3h-3zM506 533h3v3h-3zM455 536h3v3h-3zM458 536h3v3h-3zM455 539h3v3h-3zM458 539h3v3h-3zM509 542h3v3h-3zM512 548h3v3h-3zM527 560h3v3h-3zM530 560h3v3h-3z"/>
<path fill="#9f9f9f" d="M515 509h3v3h-3zM518 509h3v3h-3zM509 512h3v3h-3zM527 512h3v3h-3zM506 515h3v3h-3zM539 524h3v3h-3zM542 533h3v3h-3zM542 545h3v3h-3zM542 548h3v3h-3zM539 554h3v3h-3zM521 557h3v3h-3zM536 557h3v3h-3z"/>
<path fill="#a2a2a2" d="M530 515h3v3h-3zM506 518h3v3h-3zM536 521h3v3h-3zM506 530h3v3h-3zM542 536h3v3h-3zM509 539h3v3h-3zM542 539h3v3h-3zM542 542h3v3h-3zM515 551h3v3h-3zM518 554h3v3h-3z"/>
<path fill="#a5a5a5" d="M512 512h3v3h-3zM524 512h3v3h-3zM509 515h3v3h-3zM533 518h3v3h-3zM506 521h3v3h-3zM506 524h3v3h-3zM506 527h3v3h-3zM539 527h3v3h-3zM512 545h3v3h-3zM539 551h3v3h-3zM524 557h3v3h-3zM533 557h3v3h-3z"/>
<path fill="#a8a8a8" d="M515 512h3v3h-3zM518 512h3v3h-3zM521 512h3v3h-3zM527 515h3v3h-3zM509 536h3v3h-3zM536 554h3v3h-3zM527 557h3v3h-3zM530 557h3v3h-3z"/>
<path fill="#ababab" d="M512 515h3v3h-3zM509 518h3v3h-3zM530 518h3v3h-3zM536 524h3v3h-3zM539 530h3v3h-3zM512 542h3v3h-3zM515 548h3v3h-3zM539 548h3v3h-3zM518 551h3v3h-3zM521 554h3v3h-3z"/>
<path fill="#aeaeae" d="M524 515h3v3h-3zM533 521h3v3h-3zM509 533h3v3h-3zM539 533h3v3h-3zM539 536h3v3h-3zM539 542h3v3h-3zM539 545h3v3h-3zM536 551h3v3h-3zM533 554h3v3h-3z"/>
<path fill="#b1b1b1" d="M515 515h3v3h-3zM518 515h3v3h-3zM521 515h3v3h-3zM509 521h3v3h-3zM509 524h3v3h-3zM509 527h3v3h-3zM536 527h3v3h-3zM509 530h3v3h-3zM512 539h3v3h-3zM539 539h3v3h-3zM515 545h3v3h-3zM524 554h3v3h-3z"/>
<path fill="#b4b4b4" d="M512 518h3v3h-3zM527 518h3v3h-3zM530 521h3v3h-3zM533 524h3v3h-3zM518 548h3v3h-3zM536 548h3v3h-3zM521 551h3v3h-3zM527 554h3v3h-3zM530 554h3v3h-3z"/>
<path fill="#b7b7b7" d="M524 518h3v3h-3zM536 530h3v3h-3zM512 536h3v3h-3zM533 551h3v3h-3z"/>
<path fill="#bababa" d="M515 518h3v3h-3zM521 518h3v3h-3zM512 521h3v3h-3zM533 527h3v3h-3zM512 533h3v3h-3zM536 533h3v3h-3zM515 542h3v3h-3zM536 545h3v3h-3z"/>
<path fill="#bdbdbd" d="M518 518h3v3h-3zM527 521h3v3h-3zM512 524h3v3h-3zM530 524h3v3h-3zM512 527h3v3h-3zM512 530h3v3h-3zM536 536h3v3h-3zM536 539h3v3h-3zM536 542h3v3h-3zM518 545h3v3h-3zM533 548h3v3h-3zM524 551h3v3h-3zM530 551h3v3h-3z"/>
<path fill="#c0c0c0" d="M515 521h3v3h-3zM533 530h3v3h-3zM515 539h3v3h-3zM521 548h3v3h-3zM527 551h3v3h-3z"/>
<path fill="#c3c3c3" d="M524 521h3v3h-3zM527 524h3v3h-3zM530 527h3v3h-3zM533 545h3v3h-3z"/>
<path fill="#c6c6c6" d="M518 521h3v3h-3zM521 521h3v3h-3zM515 524h3v3h-3zM515 533h3v3h-3zM533 533h3v3h-3zM515 536h3v3h-3zM533 536h3v3h-3zM518 542h3v3h-3zM533 542h3v3h-3zM521 545h3v3h-3zM524 548h3v3h-3zM527 548h3v3h-3zM530 548h3v3h-3z"/>
<path fill="#c9c9c9" d="M524 524h3v3h-3zM515 527h3v3h-3zM515 530h3v3h-3zM530 530h3v3h-3zM533 539h3v3h-3zM530 545h3v3h-3z"/>
<path fill="#cccccc" d="M518 524h3v3h-3zM521 524h3v3h-3zM527 527h3v3h-3zM518 539h3v3h-3zM521 542h3v3h-3zM524 545h3v3h-3zM527 545h3v3h-3z"/>
<path fill="#cfcfcf" d="M518 527h3v3h-3zM524 527h3v3h-3zM518 530h3v3h-3zM527 530h3v3h-3zM518 533h3v3h-3zM530 533h3v3h-3zM518 536h3v3h-3zM530 536h3v3h-3zM530 542h3v3h-3z"/>
<path fill="#d2d2d2" d="M521 527h3v3h-3zM527 533h3v3h-3zM521 539h3v3h-3zM530 539h3v3h-3zM524 542h3v3h-3zM527 542h3v3h-3z"/>
<path fill="#d5d5d5" d="M521 530h3v3h-3zM524 530h3v3h-3zM521 533h3v3h-3zM524 533h3v3h-3zM521 536h3v3h-3zM527 536h3v3h-3zM524 539h3v3h-3zM527 539h3v3h-3z"/>
<path fill="#d8d8d8" d="M524 536h3v3h-3z"/>
  </g>
 </g>
 </g>
 <!-- slot -->
 <g clip-path="url(#sclip)">
 <path d="M508.3,488.5 C525,502.5 535.6,523 534.2,544 Q535,548.5 538.5,547.5" fill="none" stroke="#e2e2e2" stroke-width="1.3" opacity="0.8"/>
 <path d="M510.5,485.5 L511.5,487 C528.4,500.8 539,522 537.4,544" fill="none" stroke="#0c0c0c" stroke-width="6" stroke-linecap="round"/>
 </g>
 <!-- ring -->
 <path d="M444.5,587 Q494.8,581 545.5,586.5 L544.5,590 Q494.8,593 446,591 Z" fill="#eae2d8"/>
 <path d="M444.5,587 Q494.8,581 545.5,586.5 L545.5,587.8 Q494.8,584.5 444.5,588.6 Z" fill="#9a7c60"/>
 <path d="M509,584.2 Q520,583.6 532,584.6" fill="none" stroke="#f0e6d8" stroke-width="1.4"/>
 <!-- lens -->
 <path d="M466.5,589 L522,588.5 L514,602 Q506,608.5 495,608.3 Q484,608.5 475.5,602 Z" fill="#dcdad9"/>
 <path d="M467.5,590 L476,602.5 Q484,607.8 495,607.8 Q506,607.8 513.5,602.5 L521,590" fill="none" stroke="#f2f0ee" stroke-width="1"/>
 <path d="M476,595.5 Q494.5,591.5 513,595.5 C512,602 505,607 494.5,607 C484,607 477,602 476,595.5 Z" fill="#a6784e"/>
 <path d="M476,595.5 Q494.5,591.5 513,595.5 C512,602 505,607 494.5,607 C484,607 477,602 476,595.5 Z" fill="none" stroke="#6e5038" stroke-width="0.8"/>
 <ellipse cx="487" cy="600" rx="6" ry="3" fill="#c8a482" opacity="0.8" filter="url(#blur1)"/>
 <ellipse cx="502" cy="598.5" rx="5" ry="2.5" fill="#c39e7c" opacity="0.7" filter="url(#blur1)"/>
 <!-- bottom dimension -->
 <line x1="442.5" y1="614.5" x2="553.5" y2="614.5" stroke="#111" stroke-width="1.4"/>
 <line x1="442.5" y1="607.6" x2="442.5" y2="620.2" stroke="#111" stroke-width="1.6"/>
 <line x1="553.5" y1="607.6" x2="553.5" y2="620.2" stroke="#111" stroke-width="1.6"/>
</svg>
</body></html>
